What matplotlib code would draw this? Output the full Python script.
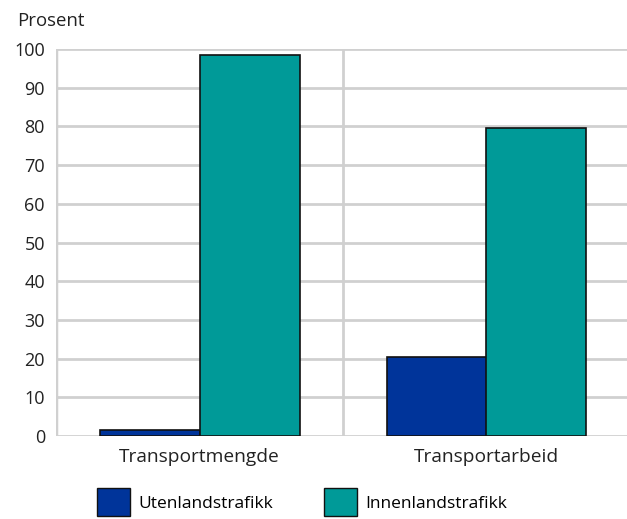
import numpy as np
import matplotlib.pyplot as plt
from matplotlib.patches import Patch

categories = ["Transportmengde", "Transportarbeid"]
series_names = ["Utenlandstrafikk", "Innenlandstrafikk"]
utenlands = [1.6, 20.3]
innenlands = [98.4, 79.7]
yticks = list(range(0, 101, 10))

blue = "#00349a"
teal = "#009a98"
grid_col = "#d0d0d0"

plt.rcParams['font.family'] = ['Open Sans', 'DejaVu Sans']

fig = plt.figure(figsize=(6.27, 5.19), dpi=100)
W, H = 627, 519
ax = fig.add_axes([56 / W, (H - 436) / H, (W - 56) / W, 387 / H])

x = np.arange(len(categories))
bw = 100 / 287
ax.bar(x - bw / 2, utenlands, width=bw, color=blue, edgecolor="#111111", linewidth=1.2, zorder=3)
ax.bar(x + bw / 2, innenlands, width=bw, color=teal, edgecolor="#111111", linewidth=1.2, zorder=3)

ax.set_xlim(-0.5, -0.5 + (W - 56) / 287)
ax.set_ylim(0, 100)
ax.set_yticks(yticks)
ax.set_yticklabels([str(t) for t in yticks], fontsize=13, color="#222222")
ax.set_xticks(x)
ax.set_xticklabels(categories, fontsize=13.8, color="#222222")
ax.tick_params(axis="both", length=0)
ax.tick_params(axis="y", pad=8)
ax.tick_params(axis="x", pad=9)

for t in yticks:
    ax.axhline(t, color=grid_col, linewidth=2, zorder=1)
ax.axvline(0.5, color=grid_col, linewidth=2, zorder=1)
ax.axvline(-0.5, color=grid_col, linewidth=2.5, zorder=1)

for s in ax.spines.values():
    s.set_visible(False)

fig.text(17 / W, 1 - 21 / H, "Prosent", fontsize=13.4, color="#222222", va="center", ha="left")

handles = [Patch(facecolor=blue, edgecolor="#111111"), Patch(facecolor=teal, edgecolor="#111111")]
fig.legend(handles, series_names, loc="lower left", bbox_to_anchor=(90 / W, -4 / H), ncol=2,
           frameon=False, fontsize=12.5, handlelength=1.9, handleheight=2.1,
           handletextpad=0.5, columnspacing=2.9, borderaxespad=0)

fig.savefig("out.png", dpi=100)
